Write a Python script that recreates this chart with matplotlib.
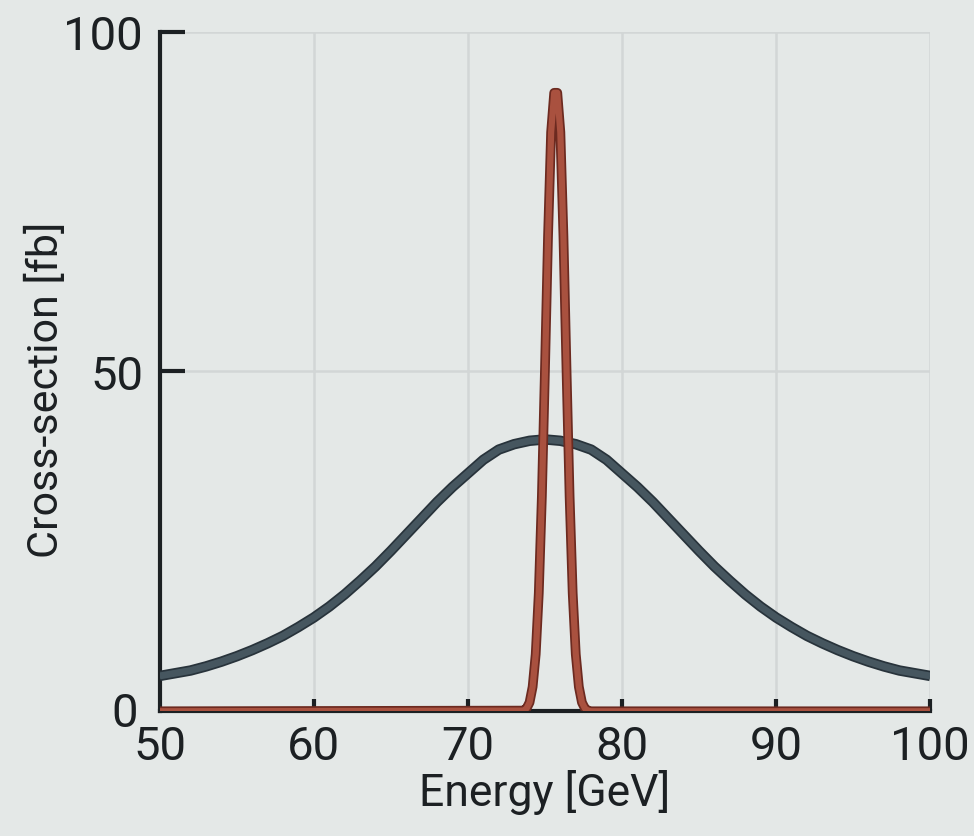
import numpy as np
import matplotlib
matplotlib.use("Agg")
import matplotlib.pyplot as plt
import matplotlib.patheffects as pe
import matplotlib.transforms as mtransforms

# broad resonance (1 GeV steps)
energy_broad = list(range(50, 101))
xsec_broad = [5.2, 5.6, 6.0, 6.6, 7.3, 8.1, 9.0, 10.0, 11.1, 12.4,
              13.8, 15.4, 17.2, 19.2, 21.3, 23.6, 26.0, 28.4, 30.8, 33.0,
              35.0, 37.0, 38.5, 39.3, 39.8, 40.0, 39.8, 39.3, 38.5, 37.0,
              35.0, 33.0, 30.8, 28.4, 26.0, 23.6, 21.3, 19.2, 17.2, 15.4,
              13.8, 12.4, 11.1, 10.0, 9.0, 8.1, 7.3, 6.6, 6.0, 5.6, 5.2]

# narrow resonance
energy_narrow = [50, 73.6, 73.8, 74.0, 74.2, 74.4, 74.6, 74.8, 75.0,
                 75.2, 75.4, 75.6, 75.8, 76.0, 76.2, 76.4, 76.6, 76.8,
                 77.0, 77.2, 77.4, 77.6, 77.8, 78.0, 100]
xsec_narrow = [0, 0.1, 0.4, 1.3, 3.6, 8.4, 17.4, 31.6, 50.2,
               69.9, 85.2, 91.0, 91.0, 85.2, 69.9, 50.2, 31.6, 17.4,
               8.4, 3.6, 1.3, 0.4, 0.1, 0.0, 0]

x_ticks = [50, 60, 70, 80, 90, 100]
y_ticks = [0, 50, 100]

bg = '#e4e8e7'
ink = '#1c2023'
plt.rcParams['font.family'] = ['Roboto', 'DejaVu Sans']

fig = plt.figure(figsize=(9.74, 8.37), dpi=100, facecolor=bg)
ax = fig.add_axes([0.164, 0.149, 0.791, 0.812], facecolor=bg)

ax.plot(energy_broad, xsec_broad, color='#46565f', lw=5, solid_capstyle='butt',
        path_effects=[pe.Stroke(linewidth=7.5, foreground='#28333b'), pe.Normal()],
        zorder=3)
ax.plot(energy_narrow, xsec_narrow, color='#a9513f', lw=4.5, solid_capstyle='butt',
        solid_joinstyle='round',
        path_effects=[pe.Stroke(linewidth=7, foreground='#6c2a20'), pe.Normal()],
        zorder=4)

ax.set_xlim(50, 100)
ax.set_ylim(0, 100)
ax.set_xticks(x_ticks)
ax.set_yticks(y_ticks)
ax.grid(True, color='#d2d6d6', lw=1.8)
ax.set_axisbelow(True)

for s in ['top', 'right']:
    ax.spines[s].set_visible(False)
for s in ['left', 'bottom']:
    ax.spines[s].set_linewidth(3)
    ax.spines[s].set_color(ink)

ax.tick_params(axis='x', direction='in', length=9, width=3, color=ink,
               labelsize=34, pad=9, labelcolor=ink)
ax.tick_params(axis='y', direction='in', length=18, width=3, color=ink,
               labelsize=34, pad=12, labelcolor=ink)
# no visible marks at the corner
ax.xaxis.get_major_ticks()[0].tick1line.set_visible(False)
ax.yaxis.get_major_ticks()[0].tick1line.set_visible(False)

# nudge the "0" so it does not sit on the "50"
zero_lbl = ax.yaxis.get_major_ticks()[0].label1
zero_lbl.set_transform(zero_lbl.get_transform() +
                       mtransforms.ScaledTranslation(-4 / 72, 2 / 72, fig.dpi_scale_trans))

ax.set_xlabel('Energy [GeV]', fontsize=32, labelpad=1, color=ink)
ax.set_ylabel('Cross-section [fb]', fontsize=31, color=ink)
ax.yaxis.set_label_coords(-0.12, 0.474)

fig.savefig('out.png', dpi=100, facecolor=bg)
